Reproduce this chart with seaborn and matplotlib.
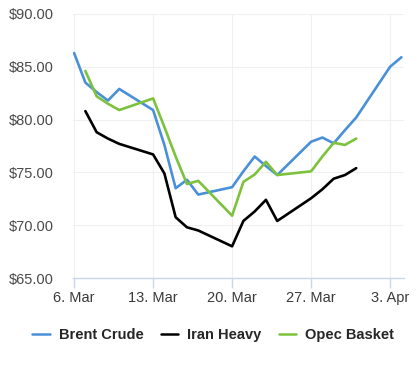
import matplotlib
matplotlib.use("Agg")
import pandas as pd
import matplotlib.pyplot as plt
import seaborn as sns

# trading days shown on the chart
brent_dates = ["2023-03-06", "2023-03-07", "2023-03-08", "2023-03-09", "2023-03-10",
               "2023-03-13", "2023-03-14", "2023-03-15", "2023-03-16", "2023-03-17",
               "2023-03-20", "2023-03-21", "2023-03-22", "2023-03-23", "2023-03-24",
               "2023-03-27", "2023-03-28", "2023-03-29", "2023-03-30", "2023-03-31",
               "2023-04-03", "2023-04-04"]
other_dates = brent_dates[1:20]

brent = [86.3, 83.5, 82.6, 81.8, 82.9, 80.9, 77.6, 73.5, 74.3, 72.9, 73.6,
         75.1, 76.5, 75.6, 74.75, 77.9, 78.3, 77.75, 79.0, 80.2, 85.0, 85.9]
iran_heavy = [80.8, 78.8, 78.2, 77.7, 76.7, 74.9, 70.75, 69.8, 69.5, 68.0,
              70.4, 71.3, 72.4, 70.4, 72.55, 73.4, 74.4, 74.75, 75.4]
opec_basket = [84.6, 82.2, 81.5, 80.9, 82.0, 79.3, 76.5, 73.9, 74.2, 70.9,
               74.1, 74.8, 76.0, 74.75, 75.1, 76.5, 77.8, 77.6, 78.2]

series_names = ["Brent Crude", "Iran Heavy", "Opec Basket"]
colors = ["#4a90d9", "#000000", "#7cc23c"]

y_ticks = [65, 70, 75, 80, 85, 90]
x_ticks = ["2023-03-06", "2023-03-13", "2023-03-20", "2023-03-27", "2023-04-03"]
x_tick_labels = ["6. Mar", "13. Mar", "20. Mar", "27. Mar", "3. Apr"]


def build_frame():
    rows = []
    for d, v in zip(brent_dates, brent):
        rows.append({"date": d, "price": v, "series": series_names[0]})
    for d, v in zip(other_dates, iran_heavy):
        rows.append({"date": d, "price": v, "series": series_names[1]})
    for d, v in zip(other_dates, opec_basket):
        rows.append({"date": d, "price": v, "series": series_names[2]})
    df = pd.DataFrame(rows)
    df["date"] = pd.to_datetime(df["date"])
    return df


def main():
    sns.set_theme(style="white")
    plt.rcParams["font.family"] = ["Liberation Sans", "DejaVu Sans"]

    df = build_frame()

    fig = plt.figure(figsize=(4.18, 3.67), dpi=100)
    ax = fig.add_axes([0.175, 0.2425, 0.792, 0.7195])

    sns.lineplot(data=df, x="date", y="price", hue="series", hue_order=series_names,
                 palette=colors, linewidth=1.9, ax=ax, legend=False)

    ax.set_ylim(65, 90)
    ax.set_xlim(pd.Timestamp("2023-03-05 22:00"), pd.Timestamp("2023-04-04 06:00"))
    ax.set_yticks(y_ticks)
    ax.set_yticklabels(["${:.2f}".format(v) for v in y_ticks], color="#4a4a4a", fontsize=10.5)
    ax.set_xticks(pd.to_datetime(x_ticks))
    ax.set_xticklabels(x_tick_labels, color="#3a3a3a", fontsize=10.5)

    ax.grid(True, color="#f0f0f0", linewidth=0.8)
    for side in ["top", "right", "left"]:
        ax.spines[side].set_visible(False)
    ax.spines["bottom"].set_color("#ccd6eb")
    ax.spines["bottom"].set_linewidth(1)
    ax.tick_params(axis="x", length=7, width=1, color="#ccd6eb", pad=2, bottom=True)
    ax.tick_params(axis="y", length=0, pad=14)
    ax.set_xlabel("")
    ax.set_ylabel("")

    handles = [plt.Line2D([], [], color=c, linewidth=1.8) for c in colors]
    fig.legend(handles, series_names, loc="center", bbox_to_anchor=(0.51, 0.088),
               ncol=3, frameon=False, handlelength=1.2, handletextpad=0.6,
               columnspacing=1.2, prop={"weight": "bold", "size": 10.5})

    plt.savefig("out.png", dpi=100)


if __name__ == "__main__":
    main()
